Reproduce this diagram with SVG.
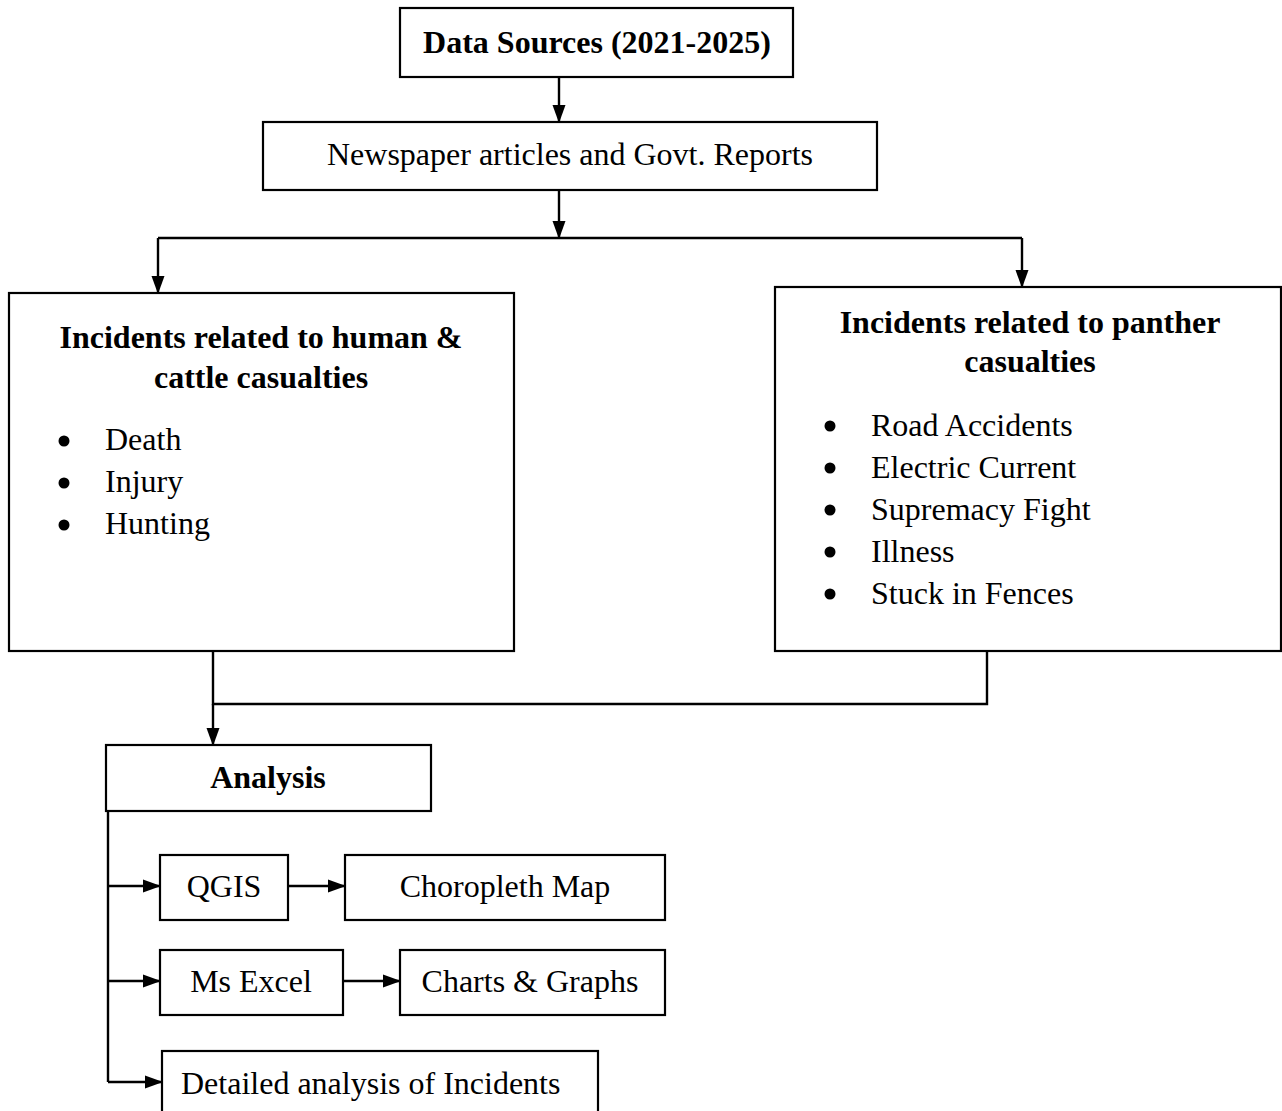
<svg xmlns="http://www.w3.org/2000/svg" width="1282" height="1111" viewBox="0 0 1282 1111">
<style>
.box{fill:#fff;stroke:#000;stroke-width:2.2}
.t{font-family:"Liberation Serif","Times New Roman",serif;font-size:32px;fill:#000}
.b{font-weight:bold}
.c{text-anchor:middle}
.ln{fill:none;stroke:#000;stroke-width:2.4}
</style>
<defs>
<marker id="ah" markerWidth="18" markerHeight="14" refX="17" refY="7" orient="auto" markerUnits="userSpaceOnUse">
<path d="M0,0.5 L18,7 L0,13.5 Z" fill="#000"/>
</marker>
</defs>
<rect width="1282" height="1111" fill="#fff"/>
<g id="connectors">
<path class="ln" d="M559,77 V122" marker-end="url(#ah)"/>
<path class="ln" d="M559,190 V238" marker-end="url(#ah)"/>
<path class="ln" d="M158,238 H1022"/>
<path class="ln" d="M158,238 V293" marker-end="url(#ah)"/>
<path class="ln" d="M1022,238 V287" marker-end="url(#ah)"/>
<path class="ln" d="M213,651 V704 H987 V651"/>
<path class="ln" d="M213,704 V745" marker-end="url(#ah)"/>
<path class="ln" d="M108,811 V1082"/>
<path class="ln" d="M108,886 H160" marker-end="url(#ah)"/>
<path class="ln" d="M108,981 H160" marker-end="url(#ah)"/>
<path class="ln" d="M108,1082 H162" marker-end="url(#ah)"/>
<path class="ln" d="M288,886 H345" marker-end="url(#ah)"/>
<path class="ln" d="M343,981 H400" marker-end="url(#ah)"/>
</g>
<g id="data-sources">
<rect class="box" x="400" y="8" width="393" height="69"/>
<text class="t b c" x="597" y="53">Data Sources (2021-2025)</text>
</g>
<g id="newspaper">
<rect class="box" x="263" y="122" width="614" height="68"/>
<text class="t c" x="570" y="165">Newspaper articles and Govt. Reports</text>
</g>
<g id="human-cattle">
<rect class="box" x="9" y="293" width="505" height="358"/>
<text class="t b c" x="261" y="348">Incidents related to human &amp;</text>
<text class="t b c" x="261" y="388">cattle casualties</text>
<circle cx="64" cy="441" r="5.5"/>
<text class="t" x="105" y="450">Death</text>
<circle cx="64" cy="483" r="5.5"/>
<text class="t" x="105" y="492">Injury</text>
<circle cx="64" cy="525" r="5.5"/>
<text class="t" x="105" y="534">Hunting</text>
</g>
<g id="panther">
<rect class="box" x="775" y="287" width="506" height="364"/>
<text class="t b c" x="1030" y="333">Incidents related to panther</text>
<text class="t b c" x="1030" y="372">casualties</text>
<circle cx="830" cy="426" r="5.5"/>
<text class="t" x="871" y="436">Road Accidents</text>
<circle cx="830" cy="468" r="5.5"/>
<text class="t" x="871" y="478">Electric Current</text>
<circle cx="830" cy="510" r="5.5"/>
<text class="t" x="871" y="520">Supremacy Fight</text>
<circle cx="830" cy="552" r="5.5"/>
<text class="t" x="871" y="562">Illness</text>
<circle cx="830" cy="594" r="5.5"/>
<text class="t" x="871" y="604">Stuck in Fences</text>
</g>
<g id="analysis">
<rect class="box" x="106" y="745" width="325" height="66"/>
<text class="t b c" x="268" y="788">Analysis</text>
</g>
<g id="qgis">
<rect class="box" x="160" y="855" width="128" height="65"/>
<text class="t c" x="224" y="897">QGIS</text>
</g>
<g id="choropleth">
<rect class="box" x="345" y="855" width="320" height="65"/>
<text class="t c" x="505" y="897">Choropleth Map</text>
</g>
<g id="excel">
<rect class="box" x="160" y="950" width="183" height="65"/>
<text class="t c" x="251" y="992">Ms Excel</text>
</g>
<g id="charts">
<rect class="box" x="400" y="950" width="265" height="65"/>
<text class="t c" x="530" y="992">Charts &amp; Graphs</text>
</g>
<g id="detailed">
<rect class="box" x="162" y="1051" width="436" height="70"/>
<text class="t" x="181" y="1094">Detailed analysis of Incidents</text>
</g>
</svg>
